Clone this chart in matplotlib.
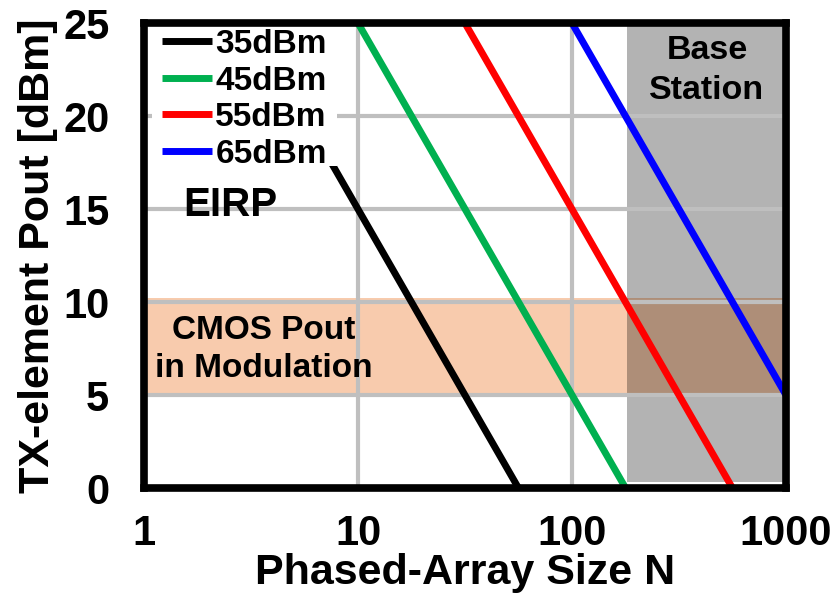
import matplotlib
matplotlib.use("Agg")
import matplotlib.pyplot as plt
from matplotlib.patches import Rectangle

plt.rcParams['font.family'] = ['Liberation Sans', 'DejaVu Sans']
plt.rcParams['font.weight'] = 'bold'

# EIRP curves: array size N vs. per-element Pout (dBm)
labels = ["35dBm", "45dBm", "55dBm", "65dBm"]
colors = ["black", "#00B050", "#FF0000", "#0000FF"]
n_vals = [[3.16, 56.2], [10, 178], [31.6, 562], [100, 1000]]
pout_vals = [[25, 0], [25, 0], [25, 0], [25, 5]]

# shaded regions
cmos_band = [5, 10.2]        # CMOS Pout in modulation (dBm)
base_station_n = [180, 1000] # base station array sizes
base_station_p = [0.3, 25]

xticks = [1, 10, 100, 1000]
yticks = [0, 5, 10, 15, 20, 25]

fig = plt.figure(figsize=(8.34, 6.07), dpi=100)
ax = fig.add_axes([0.1727, 0.196, 0.7697, 0.766])
ax.set_xscale('log')
ax.set_xlim(1, 1000)
ax.set_ylim(0, 25)

# base station (gray), CMOS band (peach) and their overlap
ax.add_patch(Rectangle((base_station_n[0], base_station_p[0]),
                       base_station_n[1] - base_station_n[0],
                       base_station_p[1] - base_station_p[0],
                       facecolor="#B3B3B3", edgecolor="none", zorder=0.8))
ax.add_patch(Rectangle((1, cmos_band[0]), base_station_n[0] - 1,
                       cmos_band[1] - cmos_band[0],
                       facecolor="#F8CBAD", edgecolor="none", zorder=0.8))
ax.add_patch(Rectangle((base_station_n[0], cmos_band[0]),
                       base_station_n[1] - base_station_n[0],
                       cmos_band[1] - cmos_band[0],
                       facecolor="#AE8E78", edgecolor="none", zorder=0.8))

ax.set_axisbelow('line')
ax.grid(True, which='major', color="#BFBFBF", linewidth=3)

for n, p, lab, c in zip(n_vals, pout_vals, labels, colors):
    ax.plot(n, p, color=c, linewidth=5, label=lab, solid_capstyle='butt', zorder=3)

ax.set_xticks(xticks)
ax.set_xticklabels([str(t) for t in xticks])
ax.set_yticks(yticks)
ax.xaxis.set_minor_locator(matplotlib.ticker.NullLocator())
ax.tick_params(axis='both', length=0, labelsize=30)
ax.tick_params(axis='x', pad=19)
ax.tick_params(axis='y', pad=25)

for s in ax.spines.values():
    s.set_linewidth(5.5)
    s.set_zorder(6)

ax.set_xlabel("Phased-Array Size N", fontsize=31, fontweight='bold', labelpad=-1)
ax.set_ylabel("TX-element Pout [dBm]", fontsize=31, fontweight='bold', labelpad=4)

# white box behind the legend (hides the top of the black line)
ax.add_patch(Rectangle((0.0125, 0.693), 0.288, 0.307, transform=ax.transAxes,
                       facecolor="white", edgecolor="none", zorder=4))
leg = ax.legend(loc='upper left', bbox_to_anchor=(0.028, 0.987), fontsize=24,
                frameon=False, handlelength=1.5, handletextpad=0.1,
                labelspacing=0.165, borderpad=0, borderaxespad=0)
leg.set_zorder(5)
for h in leg.get_lines():
    h.set_linewidth(5)
    h.set_solid_capstyle('butt')

ax.text(1.52, 15.2, "EIRP", fontsize=29, fontweight='bold', ha='left', va='center')
ax.text(3.64, 8.45, "CMOS Pout", fontsize=24, fontweight='bold', ha='center', va='center')
ax.text(3.64, 6.4, "in Modulation", fontsize=24, fontweight='bold', ha='center', va='center')
ax.text(427, 23.55, "Base", fontsize=24.5, fontweight='bold', ha='center', va='center')
ax.text(427, 21.35, "Station", fontsize=24.5, fontweight='bold', ha='center', va='center')

fig.savefig("out.png", dpi=100)
